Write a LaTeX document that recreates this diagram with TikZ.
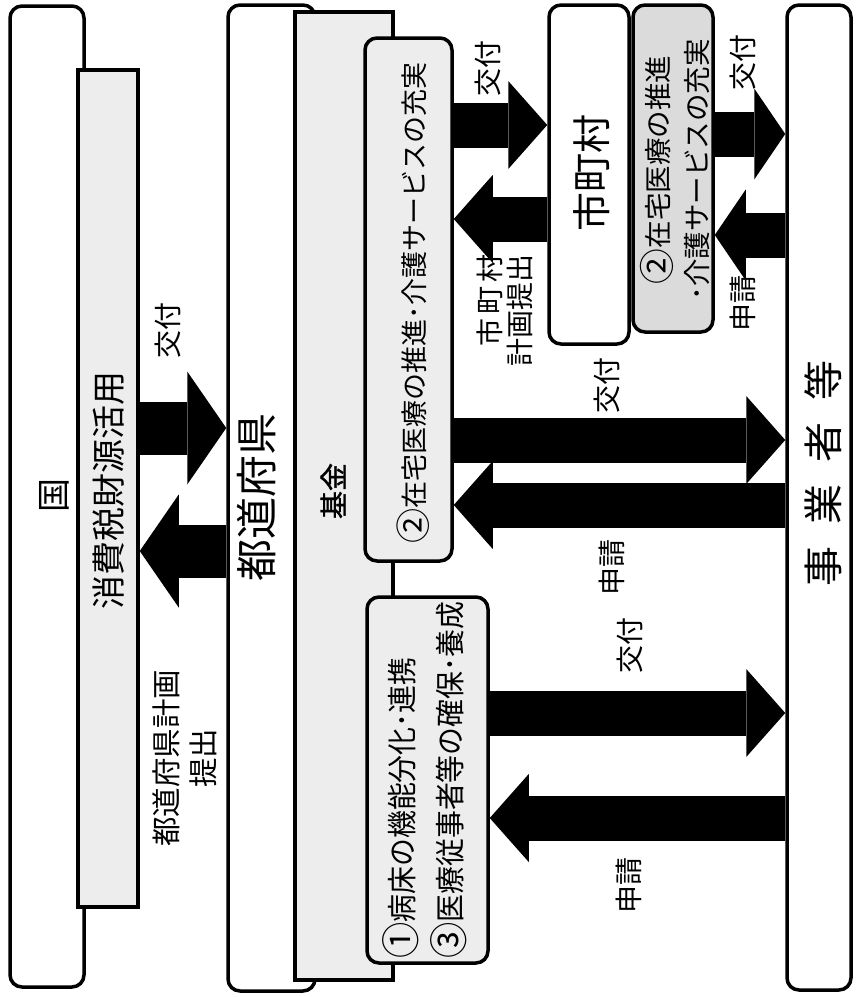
\documentclass[tikz,border=0pt]{standalone}
\usepackage{fontspec}
\usepackage{graphicx}
\setmainfont{Noto Sans CJK JP}
\newfontfamily\jpbold[FakeBold=1.5]{Noto Sans CJK JP}
\usetikzlibrary{arrows.meta}
\definecolor{stip}{gray}{0.93}
\definecolor{stipd}{gray}{0.86}
\newcommand{\cnum}[1]{\raisebox{-0.08em}{\scalebox{1.3}{#1}}}
\tikzset{
  frame/.style={draw, line width=3.5pt, rounded corners=12pt, fill=white, inner sep=0pt},
  sqframe/.style={draw, line width=3.5pt, fill=stip, inner sep=0pt},
  txt/.style={rotate=90, inner sep=0pt},
  lbl/.style={rotate=90, inner sep=0pt, font=\fontsize{28}{32}\selectfont},
  barK/.style={line width=53pt, -{Triangle[length=39pt, width=113pt, line width=0pt]}},
  bar/.style={line width=45pt, -{Triangle[length=39pt, width=88pt, line width=0pt]}},
  barS/.style={line width=45pt, -{Triangle[length=31pt, width=91pt, line width=0pt]}},
}
\begin{document}
\begin{tikzpicture}[x=1pt, y=-1pt]
\useasboundingbox (0,0) rectangle (856,997);
% boxes
\node[frame, minimum width=74pt, minimum height=981pt] (kuni) at (47,496.5) {};
\node[sqframe, minimum width=60pt, minimum height=837pt] (shohi) at (108,488.5) {};
\node[frame, minimum width=87pt, minimum height=986pt] (todo) at (271.5,498) {};
\node[sqframe, minimum width=98pt, minimum height=968pt] (kikin) at (344,496) {};
\node[frame, fill=stip, minimum width=87pt, minimum height=523pt] (b2) at (408.5,299.5) {};
\node[frame, fill=stip, minimum width=121pt, minimum height=366pt] (b13) at (427.5,780) {};
\node[frame, minimum width=80pt, minimum height=339pt] (shi) at (589,174.5) {};
\node[frame, fill=stipd, minimum width=80pt, minimum height=327pt] (b2s) at (673,168.5) {};
\node[frame, minimum width=64pt, minimum height=985pt] (jigyo) at (819,497.5) {};
% box texts
\node[txt, font=\fontsize{34}{40}\selectfont] (tkuni) at (54,495) {国};
\node[txt, font=\fontsize{34}{40}\selectfont] (tshohi) at (109,490) {消費税財源活用};
\node[txt, font=\fontsize{42}{48}\selectfont] (ttodo) at (257,497) {都道府県};
\node[txt, font=\jpbold\fontsize{28}{32}\selectfont] (tkikin) at (333,491) {基金};
\node[txt, font=\fontsize{27}{34}\selectfont] (tb2) at (413,303) {\cnum{②}在宅医療の推進･介護サービスの充実};
\node[txt, anchor=west, align=left, font=\fontsize{30}{48}\selectfont] (tb13) at (425,959) {\scalebox{0.93}[1]{\cnum{①}病床の機能分化･連携}\\\scalebox{0.93}[1]{\cnum{③}医療従事者等の確保･養成}};
\node[txt, font=\fontsize{39}{44}\selectfont] (tshi) at (592,173) {市町村};
\node[txt, align=center, font=\fontsize{27.5}{39}\selectfont] (tb2s) at (675,170) {\cnum{②}在宅医療の推進\\･介護サービスの充実};
\node[txt, font=\fontsize{40}{44}\selectfont] (tjig) at (823,473) {事\kern22pt業\kern22pt者\kern22pt等};
% arrows
\draw[barK] (shohi.east |- 0,428) -- (todo.west |- 0,428);
\draw[barK] (todo.west |- 0,551) -- (shohi.east |- 0,551);
\draw[bar] (b2.east |- 0,125) -- (shi.west |- 0,125);
\draw[bar] (shi.west |- 0,219) -- (b2.east |- 0,219);
\draw[bar] (b2.east |- 0,440) -- (jigyo.west |- 0,440);
\draw[bar] (jigyo.west |- 0,505) -- (b2.east |- 0,505);
\draw[bar] (b13.east |- 0,713) -- (jigyo.west |- 0,713);
\draw[bar] (jigyo.west |- 0,818) -- (b13.east |- 0,818);
\draw[barS] (b2s.east |- 0,134) -- (jigyo.west |- 0,134);
\draw[barS] (jigyo.west |- 0,235) -- (b2s.east |- 0,235);
% labels
\node[lbl] (l1) at (168,330) {交付};
\node[lbl, align=center, font=\fontsize{29.5}{37}\selectfont] (l2) at (185,758) {都道府県計画\\提出};
\node[lbl] (l3) at (488,68) {交付};
\node[lbl, align=right, font=\fontsize{28}{30}\selectfont] (l4) at (505,310) {市\kern4pt町\kern4pt村\\計画提出};
\node[lbl] (l5) at (607,385) {交付};
\node[lbl] (l6) at (612,567) {申請};
\node[lbl] (l7) at (630,645) {交付};
\node[lbl] (l8) at (629,885) {申請};
\node[lbl] (l9) at (743,62) {交付};
\node[lbl] (l10) at (743,303) {申請};
\end{tikzpicture}
\end{document}
